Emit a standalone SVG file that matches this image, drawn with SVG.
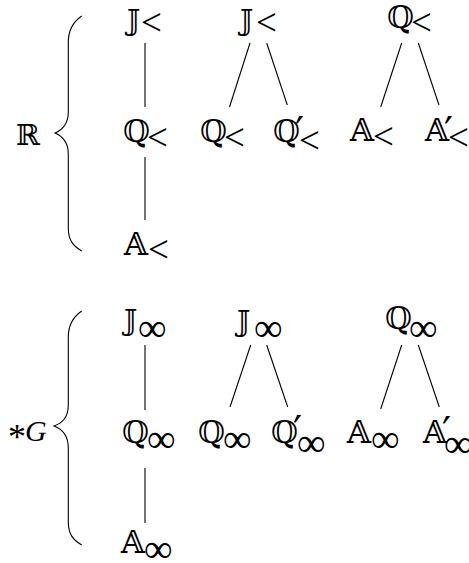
<svg xmlns="http://www.w3.org/2000/svg" width="469" height="563" viewBox="0 0 469 563">
<style>
.bb{font-family:"DejaVu Serif","DejaVu Sans",serif;fill:#000}
.j{font-size:28px}
.q{font-size:31px}
.a{font-size:31px}
.lt{font-family:"Liberation Serif",serif;font-size:37px}
.inf{font-family:"Liberation Serif",serif;font-size:40px}
.pr{font-family:"DejaVu Sans",sans-serif;font-size:40px}
.lbl{font-family:"DejaVu Serif",serif;font-size:29px}
.g{font-family:"Liberation Serif",serif;font-style:italic;font-size:30px}
.st{font-family:"Liberation Serif",serif;font-size:36px}
line,path{stroke:#000;stroke-width:1.1;fill:none}
</style>
<rect width="469" height="563" fill="#fff"/>
<g id="connectors">
<line x1="145" y1="43" x2="145" y2="107"/>
<line x1="145" y1="157" x2="145" y2="220"/>
<line x1="250" y1="43" x2="229.5" y2="107"/>
<line x1="266.7" y1="43" x2="287.3" y2="105"/>
<line x1="401.7" y1="43" x2="380.7" y2="107"/>
<line x1="418.3" y1="43" x2="439" y2="105"/>
<line x1="145" y1="345" x2="145" y2="410"/>
<line x1="145" y1="468" x2="145" y2="523"/>
<line x1="250.7" y1="345" x2="230" y2="407"/>
<line x1="266.7" y1="345" x2="287.7" y2="407"/>
<line x1="401.7" y1="345" x2="380.7" y2="409"/>
<line x1="418.3" y1="345" x2="439.3" y2="407"/>
</g>
<g id="brace-top">
<path d="M81.7,16 C73,22 68.3,30 68.3,42 L68.3,112 C68.3,124 62,130 55,133 C62,136 68.3,142 68.3,154 L68.3,228 C68.3,240 73,246 81.7,251"/>
<text class="lbl" x="16" y="145">ℝ</text>
</g>
<g id="brace-bottom">
<path d="M81.7,311 C73,317 68.3,325 68.3,337 L68.3,405 C68.3,418 62,423 54,426 C62,429 68.3,435 68.3,448 L68.3,522 C68.3,534 73,540 81.7,545"/>
<text><tspan class="st" x="8" y="449">*</tspan><tspan class="g" x="25" y="441">G</tspan></text>
</g>
<g id="n1"><text><tspan class="bb j" x="127" y="30">𝕁</tspan><tspan class="lt" x="141" y="35">&lt;</tspan></text></g>
<g id="n2"><text><tspan class="bb q" x="123" y="142">ℚ</tspan><tspan class="lt" x="147" y="150">&lt;</tspan></text></g>
<g id="n3"><text><tspan class="bb a" x="124" y="255">𝔸</tspan><tspan class="lt" x="148" y="262">&lt;</tspan></text></g>
<g id="n4"><text><tspan class="bb j" x="240" y="30">𝕁</tspan><tspan class="lt" x="256" y="35">&lt;</tspan></text></g>
<g id="n5"><text><tspan class="bb q" x="200" y="142">ℚ</tspan><tspan class="lt" x="224" y="150">&lt;</tspan></text></g>
<g id="n6"><text><tspan class="bb q" x="273" y="142">ℚ</tspan><tspan class="pr" x="295" y="146">′</tspan><tspan class="lt" x="299" y="153">&lt;</tspan></text></g>
<g id="n7"><text><tspan class="bb q" x="387" y="28">ℚ</tspan><tspan class="lt" x="411" y="35">&lt;</tspan></text></g>
<g id="n8"><text><tspan class="bb a" x="350" y="141">𝔸</tspan><tspan class="lt" x="373" y="149">&lt;</tspan></text></g>
<g id="n9"><text><tspan class="bb a" x="425" y="141">𝔸</tspan><tspan class="pr" x="444" y="146">′</tspan><tspan class="lt" x="448" y="150">&lt;</tspan></text></g>
<g id="n10"><text><tspan class="bb j" x="124" y="330">𝕁</tspan><tspan class="inf" x="138" y="341">∞</tspan></text></g>
<g id="n11"><text><tspan class="bb q" x="122" y="443">ℚ</tspan><tspan class="inf" x="147" y="452">∞</tspan></text></g>
<g id="n12"><text><tspan class="bb a" x="121" y="553">𝔸</tspan><tspan class="inf" x="144" y="562">∞</tspan></text></g>
<g id="n13"><text><tspan class="bb j" x="237" y="331">𝕁</tspan><tspan class="inf" x="254" y="341">∞</tspan></text></g>
<g id="n14"><text><tspan class="bb q" x="198" y="443">ℚ</tspan><tspan class="inf" x="223" y="452">∞</tspan></text></g>
<g id="n15"><text><tspan class="bb q" x="271" y="443">ℚ</tspan><tspan class="pr" x="293" y="445">′</tspan><tspan class="inf" x="297" y="456">∞</tspan></text></g>
<g id="n16"><text><tspan class="bb q" x="385" y="329">ℚ</tspan><tspan class="inf" x="409" y="341">∞</tspan></text></g>
<g id="n17"><text><tspan class="bb a" x="347" y="443">𝔸</tspan><tspan class="inf" x="371" y="452">∞</tspan></text></g>
<g id="n18"><text><tspan class="bb a" x="423" y="443">𝔸</tspan><tspan class="pr" x="442" y="446">′</tspan><tspan class="inf" x="444" y="457">∞</tspan></text></g>
</svg>
